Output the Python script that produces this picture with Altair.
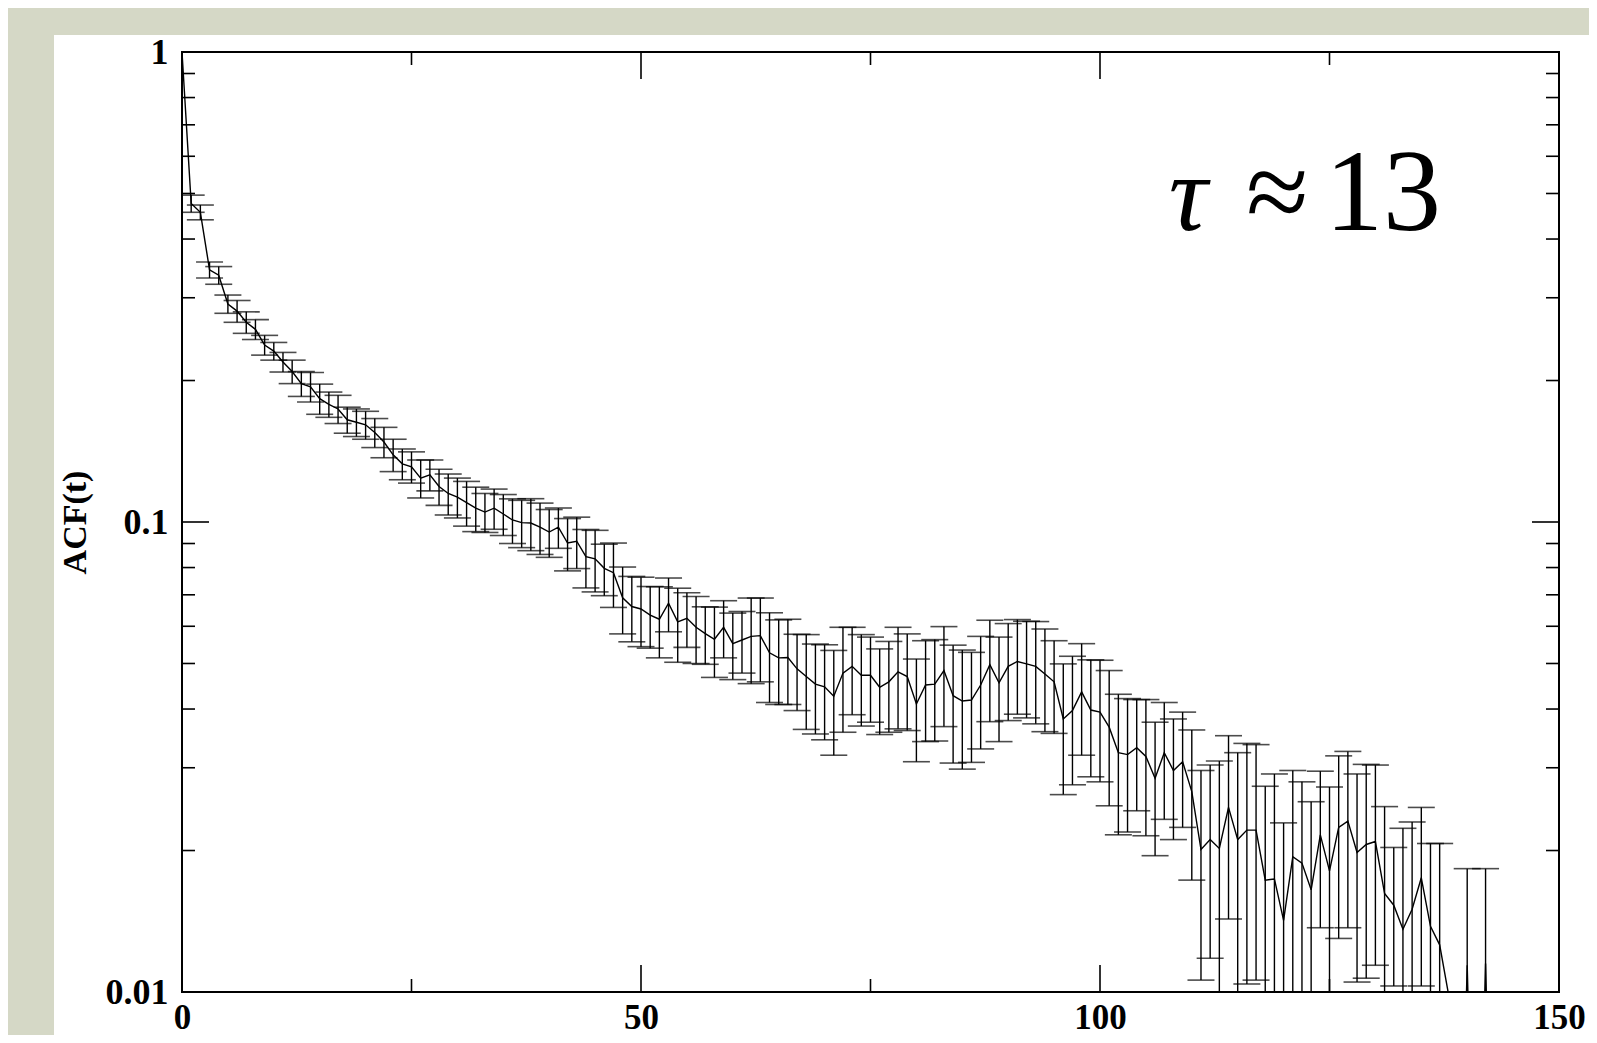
import altair as alt
import pandas as pd

lags = list(range(144))
acf = [
    1.0, 0.476, 0.456, 0.344, 0.335, 0.291, 0.281, 0.266, 0.257, 0.238,
    0.231, 0.219, 0.209, 0.197, 0.194, 0.183, 0.178, 0.174, 0.165, 0.163,
    0.161, 0.155, 0.148, 0.139, 0.133, 0.131, 0.124, 0.126, 0.119, 0.115,
    0.113, 0.110, 0.107, 0.105, 0.107, 0.104, 0.101, 0.0997, 0.0995, 0.0975,
    0.0952, 0.0975, 0.0902, 0.0910, 0.0844, 0.0835, 0.0797, 0.0780, 0.0690, 0.0661,
    0.0653, 0.0634, 0.0621, 0.0672, 0.0613, 0.0624, 0.0597, 0.0579, 0.0563, 0.0597,
    0.0551, 0.0561, 0.0571, 0.0573, 0.0527, 0.0514, 0.0515, 0.0487, 0.0469, 0.0452,
    0.0446, 0.0426, 0.0477, 0.0493, 0.0472, 0.0472, 0.0445, 0.0457, 0.0480, 0.0469,
    0.0410, 0.0450, 0.0452, 0.0483, 0.0427, 0.0416, 0.0418, 0.0450, 0.0497, 0.0455,
    0.0493, 0.0505, 0.0499, 0.0493, 0.0475, 0.0457, 0.0381, 0.0397, 0.0435, 0.0398,
    0.0394, 0.0366, 0.0323, 0.0320, 0.0331, 0.0317, 0.0285, 0.0323, 0.0296, 0.0309,
    0.0267, 0.0201, 0.0211, 0.0202, 0.0247, 0.0211, 0.0221, 0.0221, 0.0173, 0.0174,
    0.0142, 0.0194, 0.0188, 0.0165, 0.0216, 0.0181, 0.0224, 0.0231, 0.0198, 0.0206,
    0.0209, 0.0162, 0.0153, 0.0136, 0.0150, 0.0175, 0.0138, 0.0126, 0.0098, 0.002,
    0.0114, 0.002, 0.0115, 0.002,
]
err = [
    0.0, 0.020, 0.0165, 0.0135, 0.0145, 0.013, 0.015, 0.014, 0.0125, 0.0115,
    0.010, 0.0105, 0.012, 0.012, 0.014, 0.0135, 0.011, 0.012, 0.0105, 0.011,
    0.011, 0.011, 0.011, 0.011, 0.010, 0.010, 0.0115, 0.0095, 0.0105, 0.0115,
    0.011, 0.012, 0.0116, 0.010, 0.0105, 0.0104, 0.011, 0.0115, 0.0126, 0.0122,
    0.0111, 0.0096, 0.0115, 0.0114, 0.0120, 0.0125, 0.0100, 0.0122, 0.0112, 0.0105,
    0.0110, 0.0095, 0.0107, 0.0088, 0.0110, 0.0083, 0.0097, 0.0081, 0.0096, 0.0083,
    0.0089, 0.0084, 0.0118, 0.0116, 0.0114, 0.0105, 0.0106, 0.0090, 0.0107, 0.0098,
    0.0102, 0.0107, 0.0120, 0.0104, 0.0104, 0.0097, 0.0092, 0.0100, 0.0117, 0.0109,
    0.0101, 0.0109, 0.0110, 0.0116, 0.0120, 0.0118, 0.0110, 0.0121, 0.0121, 0.0114,
    0.0115, 0.0115, 0.0116, 0.0121, 0.0117, 0.0102, 0.0118, 0.0121, 0.0116, 0.0111,
    0.0114, 0.0117, 0.0107, 0.0101, 0.0088, 0.0102, 0.0090, 0.0090, 0.0085, 0.0085,
    0.0094, 0.0095, 0.0093, 0.0108, 0.0104, 0.0112, 0.0117, 0.0115, 0.0101, 0.0117,
    0.0087, 0.0102, 0.0092, 0.0089, 0.0079, 0.0092, 0.0094, 0.0094, 0.0093, 0.0099,
    0.0095, 0.0086, 0.0050, 0.0087, 0.0080, 0.0072, 0.0069, 0.0081, 0.0, 0.0,
    0.0069, 0.0, 0.0068, 0.0,
]

x_major = [0, 50, 100, 150]
x_minor = [25, 75, 125]
y_major = [0.01, 0.1, 1]
y_minor = [0.02, 0.03, 0.04, 0.05, 0.06, 0.07, 0.08, 0.09,
           0.2, 0.3, 0.4, 0.5, 0.6, 0.7, 0.8, 0.9]

y_title = "ACF(t)"
annot_tau = "τ"
annot_approx = "≈"
annot_value = "13"

W, H = 1377, 940
FONT = "Liberation Serif"

df = pd.DataFrame({"t": lags, "acf": acf, "err": err})

xs = alt.Scale(domain=[0, 150], nice=False, zero=False)
ys = alt.Scale(type="log", domain=[0.01, 1], nice=False)

xaxis = alt.Axis(values=x_major, format="d", labelFont=FONT, labelFontWeight="bold",
                 labelFontSize=35, labelColor="black", labelPadding=8,
                 labelFlush=False, ticks=False, domain=False, grid=False, zindex=1)
yaxis = alt.Axis(values=y_major, format="~g", labelFont=FONT, labelFontWeight="bold",
                 labelFontSize=36, labelColor="black", labelPadding=14,
                 ticks=False, domain=False, grid=False, zindex=1,
                 titleFont=FONT, titleFontWeight="bold", titleFontSize=34,
                 titleColor="black", titleAngle=270, titleX=-107, titleY=H / 2,
                 titleAlign="center", titleBaseline="middle")


def X(f):
    return alt.X(f, type="quantitative", scale=xs, axis=xaxis, title="")


def Y(f):
    return alt.Y(f, type="quantitative", scale=ys, axis=yaxis, title=y_title)


one = pd.DataFrame({"k": [0]})

panel = alt.Chart(one).mark_rect(color="white").encode(
    x=alt.value(-128), x2=alt.value(W + 33), y=alt.value(-17), y2=alt.value(H + 60)
)

base = alt.Chart(df)

line = base.mark_line(color="black", strokeWidth=1.4, clip=True).encode(
    x=X("t"), y=Y("acf")
)

bars = base.transform_filter("datum.err > 0").transform_calculate(
    lo="max(datum.acf - datum.err, 0.0001)", hi="datum.acf + datum.err"
)
stems = bars.mark_rule(color="black", strokeWidth=1.4, clip=True).encode(
    x=X("t"), y=Y("lo"), y2="hi:Q"
)
cap_hi = bars.mark_tick(color="black", orient="horizontal", size=27, thickness=1.6,
                        clip=True).encode(x=X("t"), y=Y("hi"))
cap_lo = bars.mark_tick(color="black", orient="horizontal", size=27, thickness=1.6,
                        clip=True).encode(x=X("t"), y=Y("lo"))

frame = alt.Chart(one).mark_rect(fillOpacity=0, stroke="black", strokeWidth=2).encode(
    x=alt.datum(0, scale=xs), x2=alt.datum(150),
    y=alt.datum(0.01, scale=ys), y2=alt.datum(1)
)

dfx_major = pd.DataFrame({"tx": x_major})
dfx_minor = pd.DataFrame({"tx": x_minor})
dfy_major = pd.DataFrame({"ty": y_major})
dfy_minor = pd.DataFrame({"ty": y_minor})

tick_style = dict(color="black", strokeWidth=1.6)
ticks = []
for d, L in ((dfx_major, 27), (dfx_minor, 13)):
    ticks.append(alt.Chart(d).mark_rule(**tick_style).encode(
        x=X("tx"), y=alt.value(H), y2=alt.value(H - L)))
    ticks.append(alt.Chart(d).mark_rule(**tick_style).encode(
        x=X("tx"), y=alt.value(0), y2=alt.value(L)))
for d, L in ((dfy_major, 27), (dfy_minor, 13)):
    ticks.append(alt.Chart(d).mark_rule(**tick_style).encode(
        y=Y("ty"), x=alt.value(0), x2=alt.value(L)))
    ticks.append(alt.Chart(d).mark_rule(**tick_style).encode(
        y=Y("ty"), x=alt.value(W), x2=alt.value(W - L)))


def annot(text, xpos, size, style="normal"):
    return alt.Chart(one).mark_text(font=FONT, fontStyle=style, fontSize=size,
                                    align="left", baseline="alphabetic",
                                    color="black").encode(
        x=alt.datum(xpos, scale=xs), y=alt.datum(0.418, scale=ys),
        text=alt.value(text))


tau = annot(annot_tau, 107.5, 108, "italic")
approx = annot(annot_approx, 115.9, 114)
value = annot(annot_value, 124.5, 116)

chart = alt.layer(panel, line, stems, cap_hi, cap_lo, *ticks, frame,
                  tau, approx, value).properties(
    width=W, height=H, background="#d5d8c6",
    autosize=alt.AutoSizeParams(type="none"),
    padding={"left": 174, "top": 44, "right": 30, "bottom": 43},
).configure_view(strokeWidth=0)

chart.save("out.html", embed_options={"renderer": "svg", "actions": False})
